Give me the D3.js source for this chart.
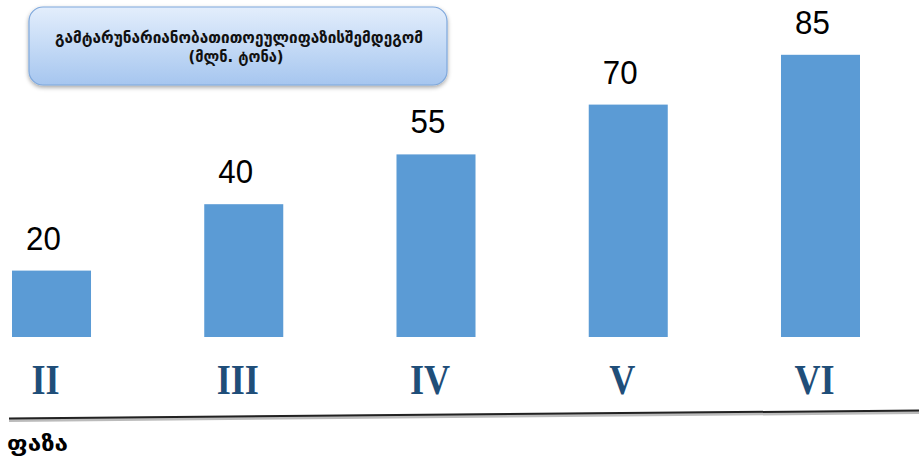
<!DOCTYPE html>
<html>
<head>
<meta charset="utf-8">
<script src="https://cdn.jsdelivr.net/npm/d3@7/dist/d3.min.js"></script>
<style>
  html, body { margin: 0; padding: 0; background: #fff; }
  svg { display: block; }
</style>
</head>
<body>
<svg id="chart" width="919" height="462"></svg>
<script>
const categories = ["II", "III", "IV", "V", "VI"];
const values = [20, 40, 55, 70, 85];
const titleLines = ["გამტარუნარიანობათითოეულიფაზისშემდეგომ", "(მლნ. ტონა)"];
const axisLabel = "ფაზა";

const svg = d3.select("#chart");

const x = d3.scaleBand().domain(categories).range([12, 860]).paddingInner(0.589).paddingOuter(0);
const y = d3.scaleLinear().domain([0, 100]).range([337, 5]);

const defs = svg.append("defs");
const grad = defs.append("linearGradient").attr("id", "boxGrad").attr("x1", 0).attr("y1", 0).attr("x2", 0).attr("y2", 1);
grad.append("stop").attr("offset", "0%").attr("stop-color", "#e3eefc");
grad.append("stop").attr("offset", "100%").attr("stop-color", "#a6c6ef");
const sh = defs.append("filter").attr("id", "shadow").attr("x", "-10%").attr("y", "-10%").attr("width", "120%").attr("height", "140%");
sh.append("feDropShadow").attr("dx", 0).attr("dy", 2).attr("stdDeviation", 2).attr("flood-color", "#000").attr("flood-opacity", 0.35);

// Title box
svg.append("rect")
  .attr("x", 29).attr("y", 7).attr("width", 418).attr("height", 78)
  .attr("rx", 14).attr("ry", 14)
  .attr("fill", "url(#boxGrad)")
  .attr("stroke", "#7fa8dc").attr("stroke-width", 1.2)
  .attr("filter", "url(#shadow)");

svg.append("text")
  .attr("x", 239).attr("y", 43)
  .attr("text-anchor", "middle")
  .attr("font-family", "DejaVu Sans, Noto Sans, sans-serif")
  .attr("font-size", 16).attr("font-weight", "bold")
  .attr("fill", "#111")
  .attr("textLength", 368).attr("lengthAdjust", "spacingAndGlyphs")
  .text(titleLines[0]);

svg.append("text")
  .attr("x", 236).attr("y", 62)
  .attr("text-anchor", "middle")
  .attr("font-family", "DejaVu Sans, Noto Sans, sans-serif")
  .attr("font-size", 16).attr("font-weight", "bold")
  .attr("fill", "#111")
  .attr("textLength", 95).attr("lengthAdjust", "spacingAndGlyphs")
  .text(titleLines[1]);

// Bars
svg.selectAll("rect.bar")
  .data(values)
  .join("rect")
  .attr("class", "bar")
  .attr("x", (d, i) => x(categories[i]))
  .attr("y", d => y(d))
  .attr("width", x.bandwidth())
  .attr("height", d => y(0) - y(d))
  .attr("fill", "#5b9bd5");

// Value labels
svg.selectAll("text.val")
  .data(values)
  .join("text")
  .attr("class", "val")
  .attr("transform", (d, i) => `translate(${x(categories[i]) + x.bandwidth() / 2 - 8},${y(d) - 21}) scale(0.92,1)`)
  .attr("text-anchor", "middle")
  .attr("font-family", "Liberation Sans, Arial, sans-serif")
  .attr("font-size", 34)
  .attr("fill", "#000")
  .text(d => d);

// Category labels
svg.selectAll("text.cat")
  .data(categories)
  .join("text")
  .attr("class", "cat")
  .attr("transform", d => `translate(${x(d) + x.bandwidth() / 2 - 6},394) scale(0.86,1)`)
  .attr("text-anchor", "middle")
  .attr("font-family", "Liberation Serif, Times New Roman, serif")
  .attr("font-size", 42).attr("font-weight", "bold")
  .attr("fill", "#1f4e79")
  .text(d => d);

// Baseline rule
svg.append("line")
  .attr("x1", 9).attr("y1", 420).attr("x2", 919).attr("y2", 412)
  .attr("stroke", "#bbb").attr("stroke-width", 4);
svg.append("line")
  .attr("x1", 9).attr("y1", 418.5).attr("x2", 919).attr("y2", 410.5)
  .attr("stroke", "#222").attr("stroke-width", 2);

svg.append("text")
  .attr("x", 7).attr("y", 451)
  .attr("font-family", "DejaVu Sans, Noto Sans, sans-serif")
  .attr("font-size", 22).attr("font-weight", "bold")
  .attr("fill", "#000")
  .attr("textLength", 61).attr("lengthAdjust", "spacingAndGlyphs")
  .text(axisLabel);
</script>
</body>
</html>
